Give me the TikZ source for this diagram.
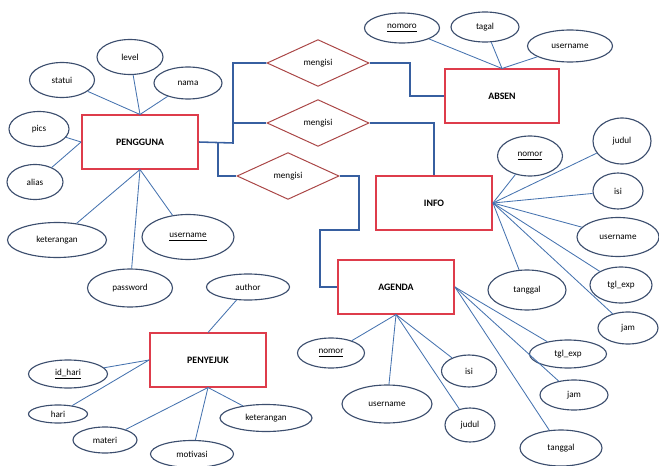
\documentclass[tikz,border=0pt]{standalone}
\usepackage{fontspec}
\setmainfont{Carlito}
\usetikzlibrary{shapes.geometric}
\definecolor{entred}{RGB}{222,60,75}
\definecolor{ellblue}{RGB}{60,78,110}
\definecolor{linkblue}{RGB}{70,115,175}
\definecolor{relblue}{RGB}{55,95,160}
\definecolor{relred}{RGB}{170,70,70}

\begin{document}
\begin{tikzpicture}[x=0.025cm, y=-0.025cm,
  entity/.style={draw=entred, line width=1.3pt, fill=white, minimum width=2.9cm, minimum height=1.33cm, font=\fontsize{7}{8}\selectfont\bfseries},
  attr/.style 2 args={ellipse, draw=ellblue, line width=0.8pt, fill=white, inner sep=0pt, minimum width=#1*0.025cm, minimum height=#2*0.025cm, font=\fontsize{6.5}{7}\selectfont},
  rel/.style={diamond, draw=relred, line width=0.7pt, fill=white, inner sep=0pt, minimum width=2.55cm, minimum height=1.17cm, font=\fontsize{6.5}{7}\selectfont},
  link/.style={draw=linkblue, line width=0.6pt},
  conn/.style={draw=relblue, line width=1.1pt},
]
\useasboundingbox (0,0) rectangle (659,466);

% entitas
\node[entity] (pengguna) at (140,142) {PENGGUNA};
\node[entity, minimum width=2.85cm] (absen) at (502,96) {ABSEN};
\node[entity] (info) at (434,203) {INFO};
\node[entity] (agenda) at (396,287) {AGENDA};
\node[entity] (penyejuk) at (208,360) {PENYEJUK};

% relasi
\node[rel] (m1) at (318,63) {mengisi};
\node[rel] (m2) at (318,123) {mengisi};
\node[rel] (m3) at (288,176) {mengisi};

\coordinate (j1) at (233,143);
\coordinate (j2) at (218,143);
\coordinate (k1) at (410,63);
\coordinate (k3) at (359,230);
\coordinate (k4) at (320,230);
\draw[conn] (pengguna.east) -- (j1) |- (m1.west);
\draw[conn] (j1) |- (m2.west);
\draw[conn] (j2) |- (m3.west);
\draw[conn] (m1.east) -- (k1) |- (absen.west);
\draw[conn] (m2.east) -| (info.north);
\draw[conn] (m3.east) -| (k3) -- (k4) |- (agenda.west);

% atribut pengguna
\node[attr={66}{35}] (level) at (130,57) {level};
\node[attr={65}{35}] (statui) at (62,80) {statui};
\node[attr={68}{32}] (nama) at (188,83) {nama};
\node[attr={60}{35}] (pics) at (39,129) {pics};
\node[attr={56}{35}] (alias) at (35,182) {alias};
\node[attr={99}{35}] (ket1) at (57,240) {keterangan};
\node[attr={92}{45}] (user1) at (188,237) {\underline{username}};
\node[attr={85}{38}] (pass) at (130,288) {password};
\draw[link] (pengguna.north) -- (level);
\draw[link] (pengguna.north) -- (statui);
\draw[link] (pengguna.north) -- (nama);
\draw[link] (pengguna.west) -- (pics);
\draw[link] (pengguna.west) -- (alias);
\draw[link] (pengguna.south) -- (ket1);
\draw[link] (pengguna.south) -- (user1);
\draw[link] (pengguna.south) -- (pass);

% atribut absen
\node[attr={75}{30}] (nomoro) at (402,28) {\underline{nomoro}};
\node[attr={68}{30}] (tagal) at (485,27) {tagal};
\node[attr={85}{32}] (user2) at (570,46) {username};
\draw[link] (absen.north) -- (nomoro);
\draw[link] (absen.north) -- (tagal);
\draw[link] (absen.north) -- (user2);

% atribut info
\node[attr={65}{40}] (nomor1) at (530,156) {\underline{nomor}};
\node[attr={58}{46}] (judul1) at (622,141) {judul};
\node[attr={50}{36}] (isi1) at (618,191) {isi};
\node[attr={82}{39}] (user3) at (618,237) {username};
\node[attr={62}{36}] (tgl1) at (621,285) {tgl\_exp};
\node[attr={60}{32}] (jam1) at (628,328) {jam};
\node[attr={78}{40}] (tgl2) at (527,290) {tanggal};
\foreach \a in {nomor1,judul1,isi1,user3,tgl1,jam1,tgl2}
  \draw[link] (info.east) -- (\a);

% atribut agenda
\node[attr={67}{30}] (nomor2) at (331,353) {\underline{nomor}};
\node[attr={90}{38}] (user4) at (387,404) {username};
\node[attr={55}{32}] (isi2) at (469,371) {isi};
\node[attr={50}{34}] (judul2) at (470,425) {judul};
\node[attr={77}{28}] (tgl3) at (568,354) {tgl\_exp};
\node[attr={68}{30}] (jam2) at (574,395) {jam};
\node[attr={82}{36}] (tgl4) at (561,448) {tanggal};
\foreach \a in {nomor2,user4,isi2,judul2}
  \draw[link] (agenda.south) -- (\a);
\foreach \a in {tgl3,jam2,tgl4}
  \draw[link] (agenda.east) -- (\a);

% atribut penyejuk
\node[attr={83}{26}] (author) at (248,287) {author};
\node[attr={79}{28}] (idhari) at (68,374) {\underline{id\_hari}};
\node[attr={59}{18}] (hari) at (58,414) {hari};
\node[attr={64}{26}] (materi) at (105,440) {materi};
\node[attr={83}{27}] (motivasi) at (192,454) {motivasi};
\node[attr={92}{27}] (ket2) at (266,418) {keterangan};
\draw[link] (penyejuk.north) -- (author);
\draw[link] (penyejuk.west) -- (idhari);
\draw[link] (penyejuk.west) -- (hari);
\foreach \a in {materi,motivasi,ket2}
  \draw[link] (penyejuk.south) -- (\a);
\end{tikzpicture}
\end{document}
